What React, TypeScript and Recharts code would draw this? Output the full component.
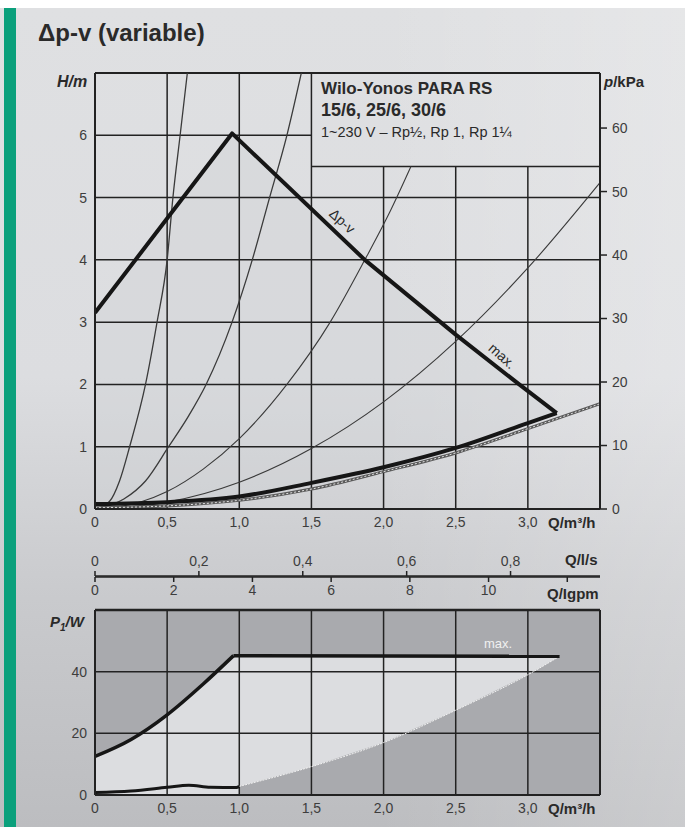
import {
  Area,
  CartesianGrid,
  ComposedChart,
  Line,
  ReferenceLine,
  XAxis,
  YAxis,
} from "recharts";

// flow axis (m³/h), shared by both charts
const qTicks = [0, 0.5, 1, 1.5, 2, 2.5, 3];
const qLabels = ["0", "0,5", "1,0", "1,5", "2,0", "2,5", "3,0"];

// head / pressure axes
const hTicks = [0, 1, 2, 3, 4, 5, 6];
const pTicks = [0, 10, 20, 30, 40, 50, 60];
const powerTicks = [0, 20, 40];

// secondary flow scales (l/s and imperial gpm)
const lsValues = [0, 0.2, 0.4, 0.6, 0.8];
const lsLabels = ["0", "0,2", "0,4", "0,6", "0,8"];
const gpmValues = [0, 2, 4, 6, 8, 10, 12];
const gpmLabels = ["0", "2", "4", "6", "8", "10", ""];

// Δp-v control line
const dpvLine = [
  { q: 0, h: 3.15 },
  { q: 0.95, h: 6.03 },
  { q: 1.87, h: 4.0 },
  { q: 2.5, h: 2.8 },
  { q: 2.94, h: 2.0 },
  { q: 3.2, h: 1.54 },
];

// lower thick curve (min)
const minCurve = [
  { q: 0, h: 0.08 },
  { q: 0.5, h: 0.11 },
  { q: 1.0, h: 0.2 },
  { q: 1.5, h: 0.42 },
  { q: 2.0, h: 0.67 },
  { q: 2.5, h: 0.98 },
  { q: 3.0, h: 1.38 },
  { q: 3.2, h: 1.54 },
];

// system curves
const curveA = [
  { q: 0, h: 0 },
  { q: 0.1, h: 0.12 },
  { q: 0.17, h: 0.45 },
  { q: 0.24, h: 1 },
  { q: 0.35, h: 2 },
  { q: 0.43, h: 3 },
  { q: 0.5, h: 4 },
  { q: 0.54, h: 5 },
  { q: 0.59, h: 6 },
  { q: 0.64, h: 7 },
];
const curveB = [
  { q: 0, h: 0 },
  { q: 0.2, h: 0.16 },
  { q: 0.35, h: 0.45 },
  { q: 0.51, h: 1 },
  { q: 0.65, h: 1.5 },
  { q: 0.77, h: 2 },
  { q: 0.95, h: 3 },
  { q: 1.09, h: 4 },
  { q: 1.21, h: 5 },
  { q: 1.33, h: 6 },
  { q: 1.43, h: 7 },
];
const curveC = [
  { q: 0, h: 0 },
  { q: 0.3, h: 0.1 },
  { q: 0.5, h: 0.28 },
  { q: 0.75, h: 0.64 },
  { q: 1.0, h: 1.13 },
  { q: 1.33, h: 2 },
  { q: 1.63, h: 3 },
  { q: 1.87, h: 4 },
  { q: 2.05, h: 4.8 },
  { q: 2.19, h: 5.5 },
];
const curveD = [
  { q: 0, h: 0 },
  { q: 0.5, h: 0.11 },
  { q: 1.0, h: 0.43 },
  { q: 1.5, h: 0.97 },
  { q: 2.0, h: 1.72 },
  { q: 2.5, h: 2.69 },
  { q: 3.0, h: 3.87 },
  { q: 3.5, h: 5.24 },
];
const curveE = [
  { q: 0, h: 0.02 },
  { q: 0.5, h: 0.05 },
  { q: 1.0, h: 0.14 },
  { q: 1.5, h: 0.32 },
  { q: 2.0, h: 0.6 },
  { q: 2.5, h: 0.9 },
  { q: 3.0, h: 1.29 },
  { q: 3.5, h: 1.69 },
];

// operating field (between Δp-v line and min curve)
const fieldQ = [0, 0.5, 0.95, 1.5, 2.0, 2.5, 3.0, 3.2];
const fieldLo = [0.08, 0.11, 0.19, 0.42, 0.67, 0.98, 1.38, 1.54];
const fieldHi = [3.15, 4.7, 6.03, 4.82, 3.71, 2.8, 1.9, 1.54];

// power input P1
const powerRise = [
  { q: 0, p: 12.5 },
  { q: 0.25, p: 18 },
  { q: 0.5, p: 26 },
  { q: 0.75, p: 36 },
  { q: 0.96, p: 45.2 },
];
const powerFlat = [
  { q: 0.96, p: 45.2 },
  { q: 3.22, p: 45 },
];
const powerLow = [
  { q: 0, p: 0.8 },
  { q: 0.25, p: 1.3 },
  { q: 0.5, p: 2.5 },
  { q: 0.65, p: 3.2 },
  { q: 0.8, p: 2.5 },
  { q: 0.98, p: 2.4 },
  { q: 1.0, p: 2.8 },
];
const powerEdge = [
  { q: 1.0, p: 2.8 },
  { q: 1.5, p: 9.2 },
  { q: 2.0, p: 17 },
  { q: 2.5, p: 27.5 },
  { q: 3.0, p: 39 },
  { q: 3.22, p: 45 },
];
const powerFieldQ = [0, 0.25, 0.5, 0.75, 0.96, 1.0, 1.0, 1.5, 2.0, 2.5, 3.0, 3.22];
const powerFieldLo = [0, 0, 0, 0, 0, 0, 2.8, 9.2, 17, 27.5, 39, 45];
const powerFieldHi = [12.5, 18, 26, 36, 45.2, 45.2, 45.2, 45.1, 45.1, 45, 45, 45];

const fieldRows = fieldQ.map((q, i) => ({ q, range: [fieldLo[i], fieldHi[i]] }));
const powerRows = powerFieldQ.map((q, i) => ({
  q,
  range: [powerFieldLo[i], powerFieldHi[i]],
}));
const axisRows = [{ q: 0 }, { q: 3.5 }];

const FONT = "'Liberation Sans', Arial, sans-serif";
const INK = "#222";
const tickStyle = { fill: "#3d3d3d", fontSize: 14, fontFamily: FONT };
const gridStroke = { stroke: INK, strokeWidth: 1.5 };

function Txt(props: {
  x: number;
  y: number;
  size: number;
  bold?: boolean;
  italic?: boolean;
  rotate?: number;
  color?: string;
  children: React.ReactNode;
}) {
  return (
    <div
      style={{
        position: "absolute",
        left: props.x,
        top: props.y,
        fontSize: props.size,
        lineHeight: 1,
        fontFamily: FONT,
        fontWeight: props.bold ? 700 : 400,
        fontStyle: props.italic ? "italic" : "normal",
        color: props.color || "#2a2a2a",
        whiteSpace: "nowrap",
        transform: props.rotate ? `rotate(${props.rotate}deg)` : undefined,
        transformOrigin: "center",
      }}
    >
      {props.children}
    </div>
  );
}

export default function App() {
  return (
    <div
      style={{
        position: "absolute",
        left: 0,
        top: 0,
        width: 685,
        height: 827,
        background: "#fff",
        overflow: "hidden",
      }}
    >
      <div
        style={{
          position: "absolute",
          left: 0,
          top: 8,
          width: 685,
          height: 819,
          background:
            "linear-gradient(to right, rgba(255,255,255,0) 55%, rgba(255,255,255,0.22) 100%), linear-gradient(to bottom, #dfe0e2 0%, #dcdde0 45%, #c9cacd 72%, #bcbdc0 100%)",
        }}
      />
      <div
        style={{
          position: "absolute",
          left: 4,
          top: 8,
          width: 12,
          height: 819,
          background: "#0ba07c",
        }}
      />

      <Txt x={38} y={21} size={24} bold>
        Δp-v (variable)
      </Txt>

      {/* H / p chart */}
      <ComposedChart
        width={615}
        height={479}
        data={fieldRows}
        margin={{ top: 13, right: 0, bottom: 0, left: 0 }}
        style={{ position: "absolute", left: 40, top: 60 }}
      >
        <XAxis
          type="number"
          dataKey="q"
          domain={[0, 3.5]}
          ticks={qTicks}
          tickFormatter={(v, i) => qLabels[i]}
          allowDataOverflow
          height={30}
          tickLine={false}
          axisLine={{ stroke: INK, strokeWidth: 2 }}
          tick={tickStyle}
        />
        <YAxis
          yAxisId="h"
          type="number"
          domain={[0, 7]}
          ticks={hTicks}
          allowDataOverflow
          width={55}
          tickLine={false}
          axisLine={{ stroke: INK, strokeWidth: 2 }}
          tick={tickStyle}
        />
        <YAxis
          yAxisId="p"
          orientation="right"
          type="number"
          domain={[0, 68.67]}
          ticks={pTicks}
          allowDataOverflow
          width={55}
          tickSize={7}
          tickMargin={5}
          tickLine={{ stroke: INK, strokeWidth: 1.5 }}
          axisLine={{ stroke: INK, strokeWidth: 2 }}
          tick={tickStyle}
        />
        <Area
          yAxisId="h"
          dataKey="range"
          type="linear"
          stroke="none"
          fill="#cfd0d4"
          fillOpacity={0.35}
          isAnimationActive={false}
        />
        {[1, 2, 3, 4, 5].map((y) => (
          <ReferenceLine key={"h" + y} yAxisId="h" y={y} {...gridStroke} />
        ))}
        <ReferenceLine
          yAxisId="h"
          segment={[
            { x: 0, y: 6 },
            { x: 1.5, y: 6 },
          ]}
          {...gridStroke}
        />
        {[0.5, 1, 1.5].map((x) => (
          <ReferenceLine key={"v" + x} yAxisId="h" x={x} {...gridStroke} />
        ))}
        {[2, 2.5, 3].map((x) => (
          <ReferenceLine
            key={"vs" + x}
            yAxisId="h"
            segment={[
              { x, y: 0 },
              { x, y: 5.5 },
            ]}
            {...gridStroke}
          />
        ))}
        <ReferenceLine
          yAxisId="h"
          segment={[
            { x: 1.5, y: 5.5 },
            { x: 3.5, y: 5.5 },
          ]}
          {...gridStroke}
        />
        <ReferenceLine yAxisId="h" y={7} stroke={INK} strokeWidth={2} />
        <Line
          yAxisId="h"
          data={curveA}
          dataKey="h"
          type="monotone"
          stroke="#3a3a3a"
          strokeWidth={1.3}
          dot={false}
          isAnimationActive={false}
        />
        <Line
          yAxisId="h"
          data={curveB}
          dataKey="h"
          type="monotone"
          stroke="#3a3a3a"
          strokeWidth={1.3}
          dot={false}
          isAnimationActive={false}
        />
        <Line
          yAxisId="h"
          data={curveC}
          dataKey="h"
          type="monotone"
          stroke="#3a3a3a"
          strokeWidth={1.1}
          dot={false}
          isAnimationActive={false}
        />
        <Line
          yAxisId="h"
          data={curveD}
          dataKey="h"
          type="monotone"
          stroke="#3a3a3a"
          strokeWidth={1.1}
          dot={false}
          isAnimationActive={false}
        />
        <Line
          yAxisId="h"
          data={curveE}
          dataKey="h"
          type="monotone"
          stroke="#5a5a5a"
          strokeWidth={3}
          dot={false}
          isAnimationActive={false}
        />
        <Line
          yAxisId="h"
          data={curveE}
          dataKey="h"
          type="monotone"
          stroke="#e2e2e2"
          strokeWidth={1}
          strokeDasharray="2 2"
          dot={false}
          isAnimationActive={false}
        />
        <Line
          yAxisId="h"
          data={minCurve}
          dataKey="h"
          type="monotone"
          stroke="#161616"
          strokeWidth={4}
          dot={false}
          isAnimationActive={false}
        />
        <Line
          yAxisId="h"
          data={dpvLine}
          dataKey="h"
          type="linear"
          stroke="#161616"
          strokeWidth={4}
          strokeLinejoin="round"
          dot={false}
          isAnimationActive={false}
        />
      </ComposedChart>

      <Txt x={57} y={74} size={16} bold italic>
        H/m
      </Txt>
      <Txt x={604} y={74} size={15} bold>
        <i>p</i>/kPa
      </Txt>
      <Txt x={548} y={515} size={15} bold>
        Q/m³/h
      </Txt>
      <Txt x={321} y={80} size={17} bold>
        Wilo-Yonos PARA RS
      </Txt>
      <Txt x={321} y={101} size={18} bold>
        15/6, 25/6, 30/6
      </Txt>
      <Txt x={321} y={125} size={14.5}>
        1~230 V – Rp½, Rp 1, Rp 1¼
      </Txt>
      <Txt x={328} y={214} size={14} rotate={42}>
        Δp-v
      </Txt>
      <Txt x={487} y={349} size={14} rotate={42}>
        max.
      </Txt>

      {/* l/s and gpm scales */}
      <ComposedChart
        width={615}
        height={55}
        data={axisRows}
        margin={{ top: 0, right: 55, bottom: 0, left: 55 }}
        style={{ position: "absolute", left: 40, top: 550 }}
      >
        <XAxis
          xAxisId="ls"
          orientation="top"
          type="number"
          dataKey="q"
          domain={[0, 3.5]}
          ticks={lsValues.map((v) => v * 3.6)}
          tickFormatter={(v, i) => lsLabels[i]}
          height={26}
          tickSize={5}
          tickMargin={5}
          tickLine={{ stroke: INK, strokeWidth: 1.5 }}
          axisLine={{ stroke: INK, strokeWidth: 1.5 }}
          tick={tickStyle}
        />
        <XAxis
          xAxisId="gpm"
          orientation="bottom"
          type="number"
          dataKey="q"
          domain={[0, 3.5]}
          ticks={gpmValues.map((v) => v * 0.27277)}
          tickFormatter={(v, i) => gpmLabels[i]}
          height={28}
          tickSize={5}
          tickMargin={3}
          tickLine={{ stroke: INK, strokeWidth: 1.5 }}
          axisLine={{ stroke: INK, strokeWidth: 1.5 }}
          tick={tickStyle}
        />
      </ComposedChart>
      <Txt x={565} y={552} size={15} bold>
        Q/l/s
      </Txt>
      <Txt x={547} y={586} size={15} bold>
        Q/Igpm
      </Txt>

      {/* P1 chart */}
      <ComposedChart
        width={615}
        height={225}
        data={powerRows}
        margin={{ top: 10, right: 55, bottom: 0, left: 0 }}
        style={{ position: "absolute", left: 40, top: 600 }}
      >
        <CartesianGrid
          horizontal={false}
          vertical={false}
          stroke="none"
          fill="#a9aaae"
          fillOpacity={1}
        />
        <XAxis
          type="number"
          dataKey="q"
          domain={[0, 3.5]}
          ticks={qTicks}
          tickFormatter={(v, i) => qLabels[i]}
          allowDataOverflow
          height={30}
          tickLine={false}
          axisLine={{ stroke: INK, strokeWidth: 2 }}
          tick={tickStyle}
        />
        <YAxis
          type="number"
          domain={[0, 60]}
          ticks={powerTicks}
          allowDataOverflow
          width={55}
          tickLine={false}
          axisLine={{ stroke: INK, strokeWidth: 2 }}
          tick={tickStyle}
        />
        <Area
          dataKey="range"
          type="linear"
          stroke="none"
          fill="#dcdde0"
          fillOpacity={1}
          isAnimationActive={false}
        />
        {[20, 40].map((y) => (
          <ReferenceLine key={"p" + y} y={y} {...gridStroke} />
        ))}
        {[0.5, 1, 1.5, 2, 2.5, 3].map((x) => (
          <ReferenceLine key={"pv" + x} x={x} {...gridStroke} />
        ))}
        <ReferenceLine y={60} stroke={INK} strokeWidth={2.5} />
        <ReferenceLine x={3.5} stroke={INK} strokeWidth={2} />
        <Line
          data={powerEdge}
          dataKey="p"
          type="monotone"
          stroke="#f2f2f2"
          strokeWidth={1}
          strokeDasharray="2 1"
          dot={false}
          isAnimationActive={false}
        />
        <Line
          data={powerLow}
          dataKey="p"
          type="monotone"
          stroke="#161616"
          strokeWidth={3}
          dot={false}
          isAnimationActive={false}
        />
        <Line
          data={powerRise}
          dataKey="p"
          type="monotone"
          stroke="#161616"
          strokeWidth={3.5}
          dot={false}
          isAnimationActive={false}
        />
        <Line
          data={powerFlat}
          dataKey="p"
          type="linear"
          stroke="#161616"
          strokeWidth={3.5}
          dot={false}
          isAnimationActive={false}
        />
      </ComposedChart>
      <Txt x={50} y={614} size={15} bold italic>
        P<sub style={{ fontSize: 10 }}>1</sub>/W
      </Txt>
      <Txt x={484} y={637} size={13} color="#f0f0f0">
        max.
      </Txt>
      <Txt x={548} y={801} size={15} bold>
        Q/m³/h
      </Txt>
    </div>
  );
}
